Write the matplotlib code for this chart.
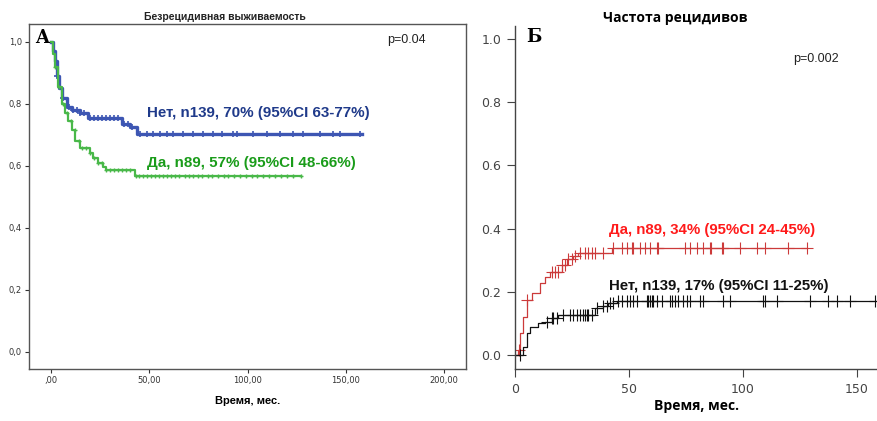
import matplotlib.pyplot as plt

# Panel A: relapse-free survival (SPSS style), step points per group
no_t = [0, 1, 2, 3, 4, 5.4, 8, 10.5, 14.7, 19, 36, 40, 43.6, 158]
no_s = [1.0, 0.97, 0.94, 0.89, 0.85, 0.82, 0.79, 0.78, 0.77, 0.754, 0.735, 0.725, 0.703, 0.703]
no_cens = [3, 6, 9, 11, 13, 15, 17, 20, 22, 24, 26, 28, 30, 32, 34, 37, 39, 41,
           45.3, 48.6, 52, 55.4, 58.8, 62.2, 67.3, 72.4, 77.5, 82.5, 86.8, 92.7,
           94.4, 102.9, 109.7, 116.4, 123.2, 128.3, 136.8, 143.6, 147, 157.1]

yes_t = [0, 1, 2, 3.7, 5.4, 7, 8.8, 10.5, 12.2, 14.7, 19.8, 21.5, 23.7, 26.3, 28, 42.5, 127]
yes_s = [1.0, 0.96, 0.92, 0.856, 0.80, 0.77, 0.745, 0.716, 0.68, 0.657, 0.641, 0.625,
         0.608, 0.598, 0.587, 0.569, 0.569]
yes_cens = [2, 4, 6, 8, 10, 12, 14, 16, 18, 20, 22, 24, 26, 28, 30, 32, 34, 36, 38, 40,
            43, 45, 47, 49, 51, 53, 55, 57, 59, 61, 63, 65, 68, 70, 72, 75, 77, 80,
            82, 85, 88, 90, 93, 96, 99, 102, 105, 108, 111, 114, 117, 120, 123, 127]

# Panel B: cumulative incidence of relapse
b_yes_t = [0, 1.5, 2.2, 3.6, 5.1, 7.3, 11, 13.2, 15.4, 20.5, 22.7, 25.6, 27.8, 42.4, 127.9]
b_yes_f = [0, 0.016, 0.069, 0.121, 0.174, 0.195, 0.227, 0.248, 0.264, 0.285, 0.303,
           0.313, 0.324, 0.340, 0.340]
b_yes_cens = [1.8, 5.1, 16.1, 17.5, 19.0, 20.5, 21.9, 23.4, 24.9, 26.3, 28.5, 30.7,
              32.2, 33.6, 35.1, 38.7, 43.1, 46.8, 49, 51.2, 51.9, 54.8, 57, 59.2,
              62.1, 62.9, 74.6, 76.8, 79.7, 82.6, 85.5, 85.8, 90.6, 91.4, 98.7, 106,
              109.6, 119.9, 127.9]

b_no_t = [0, 3.6, 5.1, 6.6, 10.2, 13.2, 16.1, 19, 35.1, 38.7, 40.9, 44.6, 160]
b_no_f = [0, 0.026, 0.069, 0.09, 0.100, 0.106, 0.116, 0.127, 0.148, 0.155, 0.164,
          0.171, 0.171]
b_no_cens = [2.2, 13.9, 16.1, 16.8, 18.3, 21.2, 24.1, 25.6, 27, 28.5, 30, 30.7, 31.4,
             32.2, 33.6, 35.8, 38.7, 40.2, 41.7, 43.1, 45.3, 46.8, 49, 50.4, 51.9,
             53.4, 57.7, 58.5, 59.2, 59.9, 60.7, 62.1, 64.3, 68, 68.7, 70.2, 71.6,
             73.8, 75.3, 76.8, 81.1, 82.6, 91.4, 94.3, 108.9, 109.6, 114.8, 129.4,
             137.4, 141.1, 146.9, 157.9]


def step_value(ts, vs, x):
    val = vs[0]
    for t, v in zip(ts, vs):
        if t <= x:
            val = v
    return val


def draw_curve(ax, ts, vs, cens, color, lw, ms, mew):
    ax.step(ts, vs, where="post", color=color, lw=lw)
    cy = [step_value(ts, vs, c) for c in cens]
    ax.plot(cens, cy, ls="none", marker="+", color=color, ms=ms, mew=mew)


fig = plt.figure(figsize=(8.78, 4.21), dpi=100)

# ---- A ----
axa = fig.add_axes([0.0330, 0.1235, 0.4977, 0.8195])
draw_curve(axa, no_t, no_s, no_cens, "#3d56b3", 2.4, 4, 1.2)
draw_curve(axa, yes_t, yes_s, yes_cens, "#49b849", 1.6, 3.5, 1.0)
axa.set_xlim(-11.2, 211)
axa.set_ylim(-0.055, 1.058)
axa.set_xticks([0, 50, 100, 150, 200])
axa.set_xticklabels([",00", "50,00", "100,00", "150,00", "200,00"])
axa.set_yticks([0, 0.2, 0.4, 0.6, 0.8, 1.0])
axa.set_yticklabels(["0,0", "0,2", "0,4", "0,6", "0,8", "1,0"])
axa.tick_params(labelsize=6, colors="#333333", length=3, width=0.8, pad=2)
for s in axa.spines.values():
    s.set_color("#555555")
    s.set_linewidth(1.0)
axa.set_xlabel("Время, мес.", fontsize=8, fontweight="bold", family="Liberation Sans",
               labelpad=8)
fig.text(225 / 878, 1 - 17 / 421, "Безрецидивная выживаемость", fontsize=7.5,
         fontweight="bold", family="Liberation Sans", ha="center", va="center",
         color="#222222")
axa.text(0.013, 0.985, "A", transform=axa.transAxes, fontsize=13, fontweight="bold",
         family="DejaVu Serif", va="top", ha="left")
axa.text(0.82, 0.955, "p=0.04", transform=axa.transAxes, fontsize=9,
         family="Liberation Sans", va="center", color="#222222")
axa.text(49, 0.772, "Нет, n139, 70% (95%CI 63-77%)", fontsize=10.9, fontweight="bold",
         family="Liberation Sans", color="#1f3a8a", va="center")
axa.text(49, 0.608, "Да, n89, 57% (95%CI 48-66%)", fontsize=10.9, fontweight="bold",
         family="Liberation Sans", color="#1a9c1a", va="center")

# ---- Б ----
axb = fig.add_axes([0.5866, 0.1235, 0.4134, 0.8147])
draw_curve(axb, b_yes_t, b_yes_f, b_yes_cens, "#cc3a3a", 0.9, 8, 0.8)
draw_curve(axb, b_no_t, b_no_f, b_no_cens, "#111111", 0.9, 8, 0.8)
axb.set_xlim(0, 159.2)
axb.set_ylim(-0.044, 1.041)
axb.set_xticks([0, 50, 100, 150])
axb.set_yticks([0, 0.2, 0.4, 0.6, 0.8, 1.0])
axb.set_yticklabels(["0.0", "0.2", "0.4", "0.6", "0.8", "1.0"])
axb.tick_params(labelsize=9, colors="#444444", length=6, width=0.8, pad=4)
axb.spines["top"].set_visible(False)
axb.spines["right"].set_visible(False)
for s in ("left", "bottom"):
    axb.spines[s].set_color("#444444")
    axb.spines[s].set_linewidth(1.0)
axb.set_xlabel("Время, мес.", fontsize=10, fontweight="bold", family="Open Sans",
               labelpad=2)
fig.text(675 / 878, 1 - 18 / 421, "Частота рецидивов", fontsize=10,
         fontweight="bold", family="Open Sans", ha="center", va="center")
axb.text(0.03, 0.995, "Б", transform=axb.transAxes, fontsize=13, fontweight="bold",
         family="DejaVu Serif", va="top", ha="left")
axb.text(0.765, 0.904, "p=0.002", transform=axb.transAxes, fontsize=9,
         family="Liberation Sans", va="center", color="#222222")
axb.text(41, 0.395, "Да, n89, 34% (95%CI 24-45%)", fontsize=10.8, fontweight="bold",
         family="Liberation Sans", color="#ff1a1a", va="center")
axb.text(41, 0.22, "Нет, n139, 17% (95%CI 11-25%)", fontsize=10.8, fontweight="bold",
         family="Liberation Sans", color="#111111", va="center")

fig.savefig("out.png", dpi=100)
